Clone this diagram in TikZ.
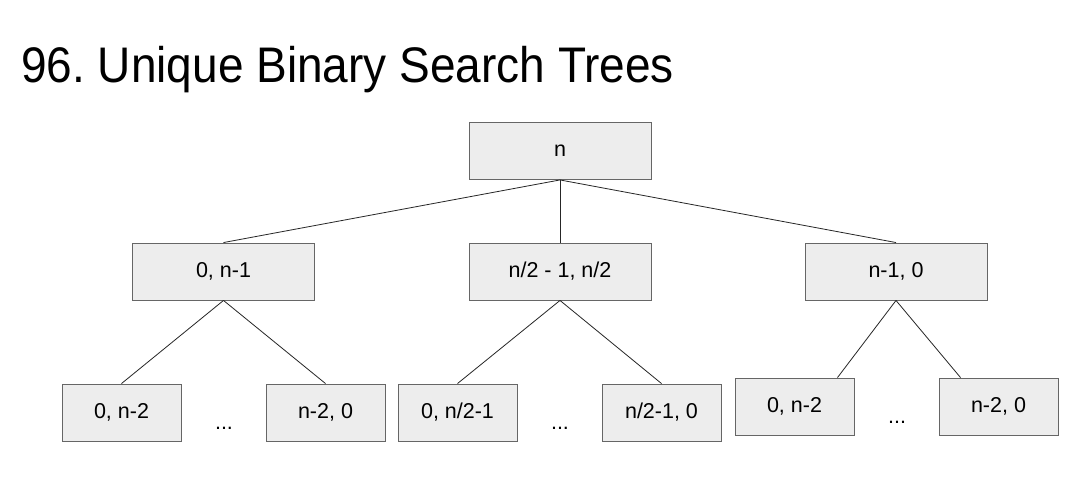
\documentclass[tikz,border=0pt]{standalone}
\usepackage{fontspec}
\setmainfont{Liberation Sans}
\frenchspacing
\begin{document}
\begin{tikzpicture}[x=1pt,y=-1pt,
  box/.style={draw=black!60,fill=black!7,line width=0.9pt,inner sep=0pt,font=\fontsize{21.5}{24}\selectfont},
  bigbox/.style={box,minimum width=182pt,minimum height=57pt},
  smallbox/.style={box,minimum width=119pt,minimum height=57pt},
  link/.style={draw=black!85,line width=0.8pt},
  dots/.style={font=\fontsize{21.5}{24}\selectfont,inner sep=0pt}]
\useasboundingbox[fill=white] (0,0) rectangle (1088,489);
\node[anchor=base west,inner sep=0pt,font=\fontsize{50}{56}\selectfont] (title) at (21,83) {\scalebox{0.92}[1]{96. Unique Binary Search Trees}};
\node[bigbox] (root) at (560,151) {n};
\node[bigbox] (l) at (223.5,271.5) {0, n-1};
\node[bigbox] (m) at (560,271.5) {n/2 - 1, n/2};
\node[bigbox] (r) at (896,271.5) {n-1, 0};
\node[smallbox] (l1) at (121.5,412.5) {0, n-2};
\node[smallbox] (l2) at (325.5,412.5) {n-2, 0};
\node[smallbox] (m1) at (457.5,412.5) {0, n/2-1};
\node[smallbox] (m2) at (661.5,412.5) {n/2-1, 0};
\node[smallbox] (r1) at (794.5,406.5) {0, n-2};
\node[smallbox] (r2) at (998.5,406.5) {n-2, 0};
\node[dots] (ld) at (224,428) {...};
\node[dots] (md) at (560,428) {...};
\node[dots] (rd) at (897,422) {...};
\draw[link] (root.south) -- (l.north);
\draw[link] (root.south) -- (m.north);
\draw[link] (root.south) -- (r.north);
\draw[link] (l.south) -- (l1.north);
\draw[link] (l.south) -- (l2.north);
\draw[link] (m.south) -- (m1.north);
\draw[link] (m.south) -- (m2.north);
\draw[link] (r.south) -- ([xshift=43pt]r1.north);
\draw[link] (r.south) -- ([xshift=-38pt]r2.north);
\end{tikzpicture}
\end{document}
